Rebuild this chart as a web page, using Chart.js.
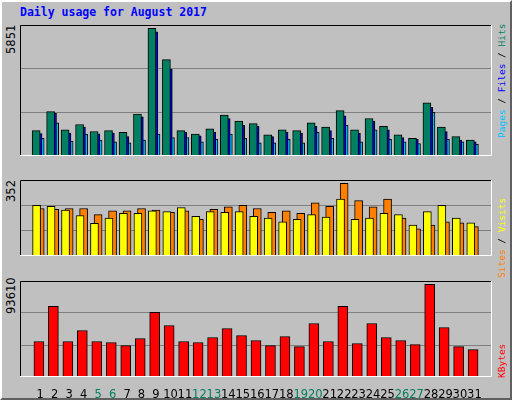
<!DOCTYPE html>
<html><head><meta charset="utf-8">
<script src="https://cdn.jsdelivr.net/npm/chart.js@4"></script>
<style>
html,body{margin:0;padding:0;background:#c0c0c0;}
#frame{position:absolute;left:0;top:0;width:508px;height:396px;border:2px solid;border-color:#ffffff #606060 #606060 #ffffff;background:#c0c0c0;}
canvas{position:absolute;}
.t{position:absolute;font-family:"DejaVu Sans Mono",monospace;font-weight:bold;font-size:11.5px;white-space:nowrap;}
.rot{position:absolute;transform-origin:0 0;transform:rotate(-90deg);white-space:nowrap;line-height:12px;}
.mx{font-family:"DejaVu Sans",sans-serif;font-size:11.5px;color:#000;}
.lg{font-family:"DejaVu Sans Mono",monospace;font-size:9.5px;}
</style></head><body>
<div id="frame"></div>
<div class="t" style="left:20px;top:5px;color:#0000ff">Daily usage for August 2017</div>
<canvas id="c1" width="472" height="152" style="left:20px;top:25px;width:472px;height:152px"></canvas>
<canvas id="c2" width="472" height="97" style="left:20px;top:180px;width:472px;height:97px"></canvas>
<canvas id="c3" width="472" height="117" style="left:20px;top:281px;width:472px;height:117px"></canvas>
<div class="rot mx" style="left:5px;top:54px">5851</div>
<div class="rot mx" style="left:5px;top:202px">352</div>
<div class="rot mx" style="left:5px;top:314px">93610</div>
<div class="rot lg" style="left:496px;top:138px"><span style="color:#00c0ff">Pages</span><span style="color:#000"> / </span><span style="color:#0000ff">Files</span><span style="color:#000"> / </span><span style="color:#008060">Hits</span></div>
<div class="rot lg" style="left:496px;top:278px"><span style="color:#ff8000">Sites</span><span style="color:#000"> / </span><span style="color:#ffff00">Visits</span></div>
<div class="rot lg" style="left:496px;top:378px"><span style="color:#ff0000">KBytes</span></div>
<script>
const days = Array.from({length:31},(_,i)=>i+1);
const weekendDays = [5,6,12,13,19,20,26,27];
const hits  = [1165,2039,1205,1443,1125,1165,1086,1920,5851,4422,1165,1006,1244,1880,1602,1483,966,1205,1165,1523,1324,2079,1205,1721,1364,966,808,2436,1324,887,728];
const files = [1033,1959,1046,1324,1019,1046,887,1800,5692,3985,1086,927,1086,1721,1403,1364,887,1086,1046,1364,1165,1840,1046,1602,1205,847,768,2237,1125,728,649];
const pages = [808,1523,688,1006,728,649,609,728,1006,847,847,649,768,1006,808,609,609,768,609,1086,808,1403,649,1205,768,649,569,1999,768,649,530];
const sites  = [245,241,222,196,158,184,207,207,219,215,234,192,215,211,215,192,184,165,177,200,188,276,177,184,207,200,150,215,245,184,161];
const visits = [230,226,230,230,200,219,219,230,222,211,219,177,226,238,245,230,211,219,207,257,241,352,268,238,276,184,131,150,165,161,142];
const kbytes = [35818,71300,35818,46970,35818,34804,31763,38860,65218,52040,35818,34804,39874,48997,41901,36833,31763,40887,30750,54067,35818,71300,33790,54067,39874,36833,32777,93610,50011,30750,27708];
const maxes = [6009, 368, 96950];

const pts = (vals, off) => vals.map((v,i)=>({x:days[i]+off, y:v}));

const frame = {id:'frame',afterDraw(ch){const a=ch.chartArea,c=ch.ctx;c.save();c.lineWidth=1;c.strokeStyle='#000';
  c.beginPath();c.moveTo(a.left+0.5,a.bottom);c.lineTo(a.left+0.5,a.top+0.5);c.lineTo(a.right,a.top+0.5);c.stroke();
  c.strokeStyle='#fff';c.beginPath();c.moveTo(a.right-0.5,a.top);c.lineTo(a.right-0.5,a.bottom-0.5);c.lineTo(a.left,a.bottom-0.5);c.stroke();c.restore();}};

function mk(id,datasets,max,thick,showX){
  new Chart(document.getElementById(id),{type:'bar',
    data:{datasets},
    options:{responsive:false,animation:false,devicePixelRatio:1,
      layout:{padding:0},
      plugins:{legend:{display:false},tooltip:{enabled:false}},
      datasets:{bar:{barThickness:thick,grouped:false,borderWidth:1,borderColor:'#000',borderSkipped:false}},
      scales:{
        x:{type:'linear',min:0.13,max:31.69,display:showX,grid:{display:false},border:{display:false},
          afterFit:s=>{s.height=21;},
          afterBuildTicks:s=>{s.ticks=days.map(d=>({value:d}));},
          ticks:{font:{family:'DejaVu Sans',size:11.5},padding:3,maxRotation:0,autoSkip:false,
            callback:v=>String(v),
            color:c=>weekendDays.includes(c.tick.value)?'#008060':'#000'}},
        y:{min:0,max:max,afterFit:s=>{s.width=0;},
          ticks:{display:false,stepSize:max/3},
          grid:{color:'#808080',drawTicks:false,lineWidth:c=>(c.tick.value>0&&c.tick.value<max-1)?1:0},
          border:{display:false}}
      }},
    plugins:[frame]});
}
mk('c1',[
  {data:pts(hits,-0.28),backgroundColor:'#008060'},
  {data:pts(files,-0.15),backgroundColor:'#0000ff'},
  {data:pts(pages,0),backgroundColor:'#00c0ff'}],maxes[0],8,false);
mk('c2',[
  {data:pts(sites,-0.25),backgroundColor:'#ffff00'},
  {data:pts(visits,0),backgroundColor:'#ff8000'}],maxes[1],8,false);
mk('c3',[
  {data:pts(kbytes,-0.09),backgroundColor:'#ff0000'}],maxes[2],10,true);
</script></body></html>
